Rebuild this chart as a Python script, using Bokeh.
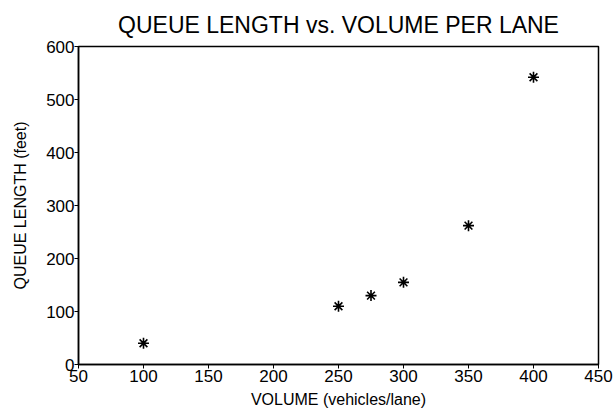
from bokeh.plotting import figure
from bokeh.models import Range1d, FixedTicker
from bokeh.embed import file_html
from bokeh.resources import INLINE

volume = [100, 250, 275, 300, 350, 400]
queue_length = [40, 110, 130, 155, 262, 542]
x_ticks = [50, 100, 150, 200, 250, 300, 350, 400, 450]
y_ticks = [0, 100, 200, 300, 400, 500, 600]

FONT = "Liberation Sans"

p = figure(width=613, height=420, output_backend="svg", toolbar_location=None,
           x_range=Range1d(50, 450), y_range=Range1d(0, 600),
           min_border_left=78, min_border_right=15, min_border_top=46, min_border_bottom=56)
p.title.text = "QUEUE LENGTH vs. VOLUME PER LANE"
p.title.align = "center"
p.title.text_font = FONT
p.title.text_font_size = "23px"
p.title.text_font_style = "normal"
p.title.text_color = "black"
p.title.offset = -12
p.title.standoff = 18

p.scatter(volume, queue_length, marker="asterisk", size=11, line_color="black", line_width=1.6)

p.xgrid.visible = False
p.ygrid.visible = False
p.outline_line_color = "black"
p.outline_line_width = 1.5
p.outline_line_alpha = 1

for ax, ticks in ((p.xaxis, x_ticks), (p.yaxis, y_ticks)):
    ax.ticker = FixedTicker(ticks=ticks)
    ax.minor_tick_line_color = None
    ax.major_tick_out = 4
    ax.major_tick_in = 0
    ax.major_tick_line_color = "black"
    ax.axis_line_color = "black"
    ax.axis_line_width = 1.5
    ax.major_label_text_font = FONT
    ax.major_label_text_font_size = "17px"
    ax.major_label_text_color = "black"
    ax.axis_label_text_font = FONT
    ax.axis_label_text_font_size = "16px"
    ax.axis_label_text_font_style = "normal"
    ax.axis_label_text_color = "black"

p.xaxis.axis_label = "VOLUME (vehicles/lane)"
p.yaxis.axis_label = "QUEUE LENGTH (feet)"
p.xaxis.major_label_standoff = 1
p.yaxis.major_label_standoff = 0
p.xaxis.axis_label_standoff = 6
p.yaxis.axis_label_standoff = 14

open("out.html", "w").write(file_html(p, INLINE))
